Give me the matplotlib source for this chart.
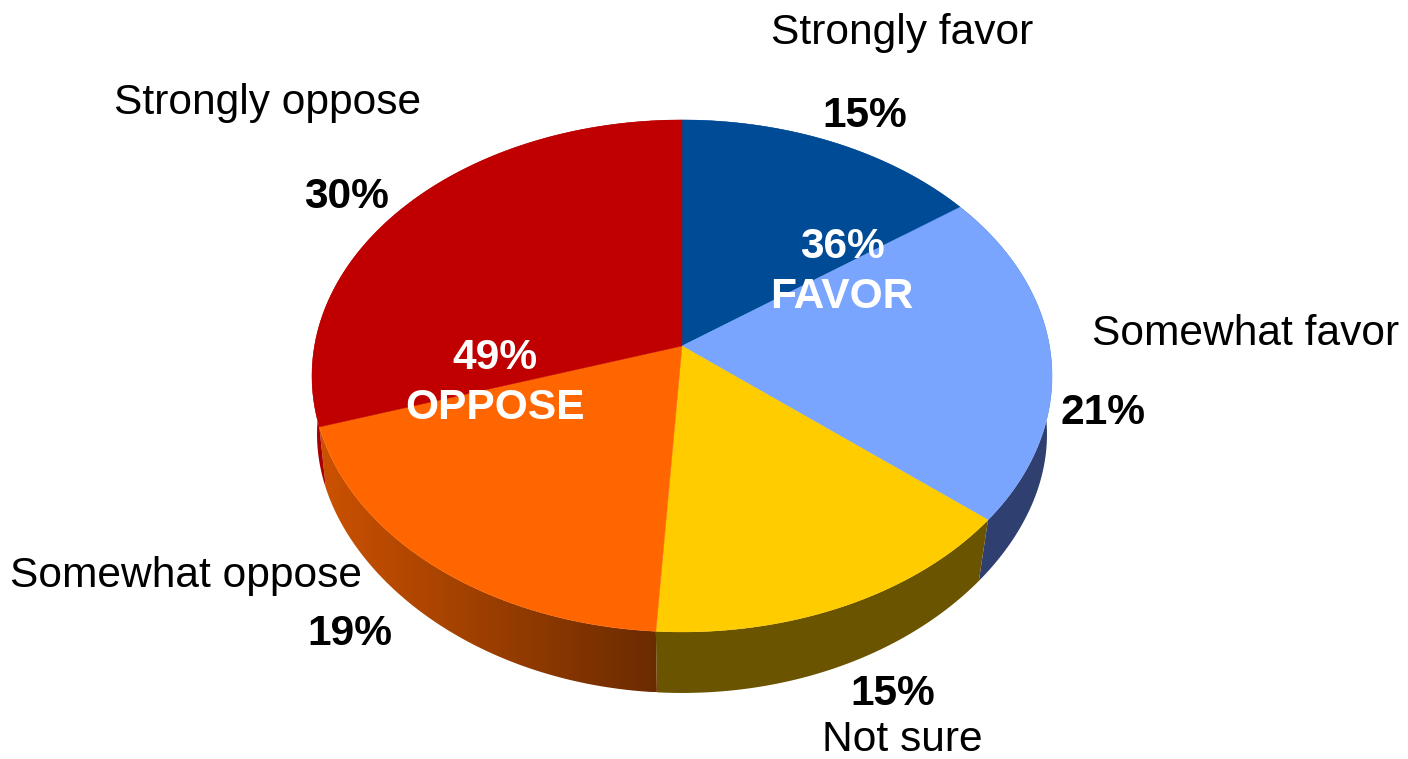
import numpy as np
import matplotlib
matplotlib.use('Agg')
import matplotlib.pyplot as plt
from matplotlib.colors import to_rgb
from matplotlib.patches import Polygon

plt.rcParams['font.family'] = ['Liberation Sans', 'DejaVu Sans']

labels = ['Strongly favor', 'Somewhat favor', 'Not sure', 'Somewhat oppose', 'Strongly oppose']
values = [15, 21, 15, 19, 30]
top_colors = ['#004b96', '#7aa5ff', '#ffcc00', '#ff6600', '#c00000']
side_colors = ['#004b96', '#2f4070', '#6a5400', '#ff6600', '#a80000']

# perspective of the tilted disc, in picture pixels
cx, cy = 682, 346
rx, ry = 367.5, 252.5
persp = 0.117
depth = 61


def disc(angle, lower=False):
    # angle is clockwise from 12 o'clock
    px = np.sin(angle)
    py = np.cos(angle)
    den = 1 + persp * py
    x = rx * px / den
    y = ry * py / den
    if lower:
        # lower rim is a bit narrower, least so at the sides
        shrink = 0.961 + 0.026 * px ** 4
        return cx + x * shrink, cy - y + depth
    return cx + x, cy - y


fig = plt.figure(figsize=(14.08, 7.59), dpi=100)
ax = fig.add_axes([0, 0, 1, 1])
ax.axis('off')

edges = np.cumsum([0] + values) / sum(values) * 2 * np.pi

# side walls
for i in range(len(values)):
    ang = np.linspace(edges[i], edges[i + 1], 120)
    xt, yt = disc(ang)
    xb, yb = disc(ang, True)
    wall_x = np.r_[xt, xb[::-1]]
    wall_y = np.r_[yt, yb[::-1]]
    if labels[i] == 'Somewhat oppose':
        # wall gets darker towards the front, left to right
        shade = np.linspace(0.80, 0.42, 256)[None, :, None]
        grad = shade * np.array(to_rgb(top_colors[i]))[None, None, :]
        im = ax.imshow(grad, extent=[wall_x.min(), wall_x.max(), wall_y.max(), wall_y.min()],
                       aspect='auto', zorder=1)
        im.set_clip_path(Polygon(np.c_[wall_x, wall_y], closed=True, transform=ax.transData))
    else:
        ax.fill(wall_x, wall_y, color=side_colors[i], lw=0, zorder=1)

# top of the disc
for i in range(len(values)):
    ang = np.linspace(edges[i], edges[i + 1], 120)
    x, y = disc(ang)
    ax.fill(np.r_[cx, x], np.r_[cy, y], color=top_colors[i], lw=0.3, zorder=2)

ax.set_xlim(0, 1408)
ax.set_ylim(759, 0)

fs = 30.6
ax.text(902, 33, labels[0], fontsize=fs, ha='center', va='center')
ax.text(1246, 334, labels[1], fontsize=fs, ha='center', va='center')
ax.text(902, 740, labels[2], fontsize=fs, ha='center', va='center')
ax.text(186, 576, labels[3], fontsize=fs, ha='center', va='center')
ax.text(268, 103, labels[4], fontsize=fs, ha='center', va='center')

fb = 30.6
ax.text(865, 116, f'{values[0]}%', fontsize=fb, fontweight='bold', ha='center', va='center')
ax.text(1103, 413, f'{values[1]}%', fontsize=fb, fontweight='bold', ha='center', va='center')
ax.text(893, 694, f'{values[2]}%', fontsize=fb, fontweight='bold', ha='center', va='center')
ax.text(350, 634, f'{values[3]}%', fontsize=fb, fontweight='bold', ha='center', va='center')
ax.text(347, 197, f'{values[4]}%', fontsize=fb, fontweight='bold', ha='center', va='center')

ax.text(842, 247, '36%', fontsize=fb, fontweight='bold', color='white', ha='center', va='center')
ax.text(842, 297, 'FAVOR', fontsize=fb, fontweight='bold', color='white', ha='center', va='center')
ax.text(495, 358, '49%', fontsize=fb, fontweight='bold', color='white', ha='center', va='center')
ax.text(495, 408, 'OPPOSE', fontsize=fb, fontweight='bold', color='white', ha='center', va='center')

fig.savefig('out.png', dpi=100)
plt.close(fig)
